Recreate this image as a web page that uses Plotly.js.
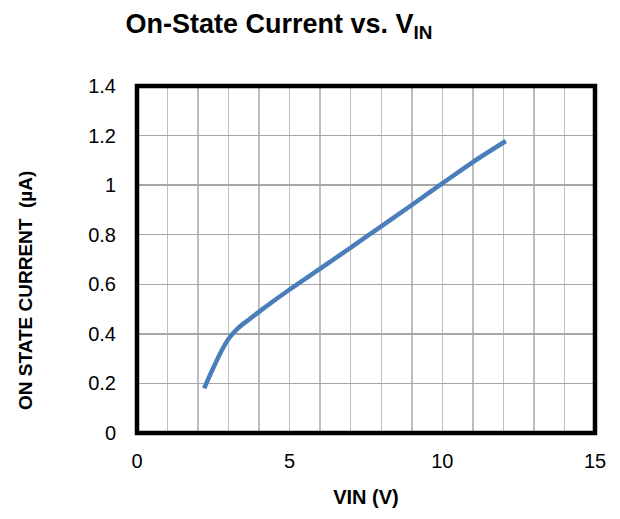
<!DOCTYPE html>
<html><head><meta charset="utf-8">
<script src="https://cdn.plot.ly/plotly-3.0.1.min.js"></script>
<style>html,body{margin:0;padding:0;background:#fff}#plot{width:620px;height:519px}</style>
</head><body><div id="plot"></div>
<script>
const vin = [2.2, 2.47, 2.72, 3.0, 3.3, 3.7, 4.2, 5.0, 6.0, 7.0, 8.0, 9.0, 10.0, 11.0, 12.08];
const current = [0.18, 0.255, 0.32, 0.38, 0.422, 0.461, 0.508, 0.579, 0.663, 0.748, 0.834, 0.92, 1.007, 1.093, 1.178];
const xTicks = [0, 5, 10, 15];
const yTicks = [0, 0.2, 0.4, 0.6, 0.8, 1, 1.2, 1.4];

const font = "Liberation Sans, Arial, sans-serif";
const data = [{
  x: vin, y: current, type: 'scatter', mode: 'lines',
  line: {color: '#4A7EBB', width: 4.5, shape: 'spline', smoothing: 0.8},
  hoverinfo: 'skip'
}];
const layout = {
  width: 620, height: 519,
  margin: {l: 137, r: 25, t: 86, b: 86},
  paper_bgcolor: '#fff', plot_bgcolor: '#fff',
  showlegend: false,
  font: {family: font, color: '#000', size: 20},
  title: {text: '<b>On-State Current vs. V<sub>IN</sub></b>', x: 279/620, xanchor: 'center', y: 1 - 24/519, yanchor: 'middle', font: {size: 27, family: font}},
  xaxis: {
    range: [0, 15], tickvals: xTicks, ticktext: xTicks.map(String),
    showgrid: true, gridcolor: '#bdbdbd', gridwidth: 1.5,
    tickmode: 'array', zeroline: false, showline: false, ticks: '', ticklabelstandoff: 14,
    minor: {dtick: 1, showgrid: true, gridcolor: '#bdbdbd', gridwidth: 1.5},
    tickfont: {size: 20},
    title: {text: '<b>VIN (V)</b>', font: {size: 20}, standoff: 18}
  },
  yaxis: {
    range: [0, 1.4], tickvals: yTicks, ticktext: yTicks.map(String),
    showgrid: true, gridcolor: '#a6a6a6', gridwidth: 1.5,
    zeroline: false, showline: false, ticks: '', ticklabelstandoff: 20,
    tickfont: {size: 20}
  },
  shapes: [{type: 'rect', xref: 'paper', yref: 'paper', x0: 0, x1: 1, y0: 0, y1: 1, line: {color: '#000', width: 4.5}}],
  annotations: [{
    text: '<b>ON STATE CURRENT&nbsp;&nbsp;(µA)</b>', textangle: -90, xref: 'paper', yref: 'paper',
    x: (25 - 137) / 458, y: (433 - 291) / 347, xanchor: 'center', yanchor: 'middle', showarrow: false,
    font: {size: 19, family: font}
  }]
};
Plotly.newPlot('plot', data, layout, {displayModeBar: false, staticPlot: true});
</script></body></html>
